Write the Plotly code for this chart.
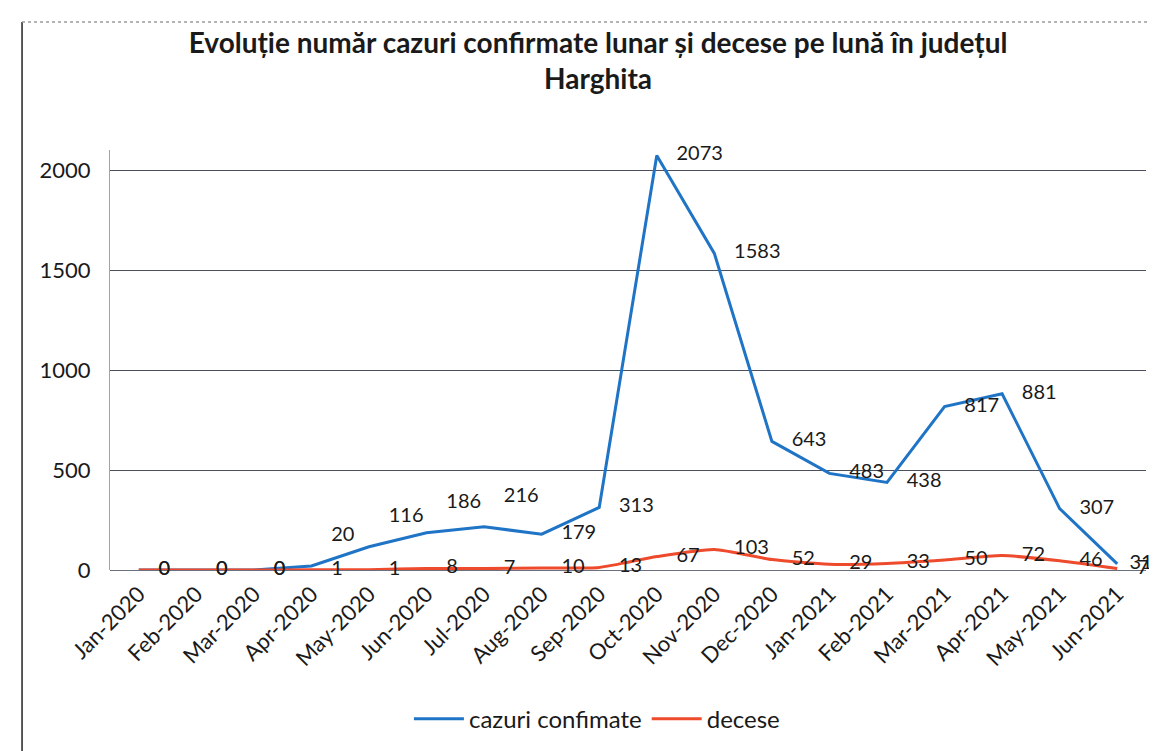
"""Monthly confirmed cases and deaths, Harghita county."""
import plotly.graph_objects as go

months = [
    "Jan-2020", "Feb-2020", "Mar-2020", "Apr-2020", "May-2020", "Jun-2020",
    "Jul-2020", "Aug-2020", "Sep-2020", "Oct-2020", "Nov-2020", "Dec-2020",
    "Jan-2021", "Feb-2021", "Mar-2021", "Apr-2021", "May-2021", "Jun-2021",
]
cases = [0, 0, 0, 20, 116, 186, 216, 179, 313, 2073, 1583, 643, 483, 438, 817, 881, 307, 31]
deaths = [0, 0, 0, 1, 1, 8, 7, 10, 13, 67, 103, 52, 29, 33, 50, 72, 46, 7]
y_ticks = [0, 500, 1000, 1500, 2000]

FONT = "Lato, 'Open Sans', sans-serif"
BLUE = "#1f74c6"
RED = "#ee4a2c"
CLEAR = "rgba(0,0,0,0)"

n = len(months)
# the small early values sit above their points, the rest to the right
case_pos = ["top right" if 3 <= i <= 6 else "middle right" for i in range(n)]
# invisible markers push the labels away from the line; last one closer to fit
case_msize = [30] * (n - 1) + [18]

fig = go.Figure()
fig.add_trace(go.Scatter(
    x=months, y=cases, name="cazuri confimate",
    mode="lines+markers+text",
    line=dict(color=BLUE, width=3),
    marker=dict(size=case_msize, color=CLEAR, line=dict(width=0, color=CLEAR)),
    text=[str(v) for v in cases], textposition=case_pos,
    textfont=dict(family=FONT, size=20, color="#1a1a1a"),
    cliponaxis=False,
))
fig.add_trace(go.Scatter(
    x=months, y=deaths, name="decese",
    mode="lines+markers+text",
    line=dict(color=RED, width=3, shape="spline", smoothing=0.6),
    marker=dict(size=30, color=CLEAR, line=dict(width=0, color=CLEAR)),
    text=[str(v) for v in deaths], textposition="middle right",
    textfont=dict(family=FONT, size=20, color="#1a1a1a"),
    cliponaxis=False,
))

fig.update_layout(
    width=1157, height=751,
    margin=dict(l=102, r=19, t=142, b=189),
    paper_bgcolor="white", plot_bgcolor="white",
    font=dict(family=FONT, size=20, color="#1a1a1a"),
    title=dict(
        text="<b>Evoluție număr cazuri confirmate lunar și decese pe lună în județul<br>Harghita</b>",
        x=0.51, xref="container", xanchor="center",
        y=0.94, yref="container", yanchor="top",
        font=dict(family=FONT, size=28, color="#1a1a1a"),
    ),
    legend=dict(
        orientation="h", x=0.47, xanchor="center", y=-0.355, yanchor="middle",
        font=dict(family=FONT, size=24, color="#1a1a1a"),
        itemwidth=50,
    ),
    showlegend=True,
    shapes=[
        dict(type="line", xref="paper", yref="paper", x0=-0.0849, x1=-0.0849,
             y0=-0.45, y1=1.305, line=dict(color="#222", width=1.5)),
        dict(type="line", xref="paper", yref="paper", x0=-0.0849, x1=1.02,
             y0=1.305, y1=1.305, line=dict(color="#9a9a9a", width=1.5, dash="dot")),
    ],
)
fig.update_xaxes(
    type="category", range=[-0.5, 17.5], tickangle=-45,
    showgrid=False, showline=False, ticks="", ticklabelstandoff=6,
    tickfont=dict(family=FONT, size=22, color="#1a1a1a"),
)
fig.update_yaxes(
    range=[0, 2100], tickvals=y_ticks,
    showgrid=True, gridcolor="#4a5060", gridwidth=1,
    zeroline=True, zerolinecolor="#6a7080", zerolinewidth=1,
    showline=True, linecolor="#9aa0cc", linewidth=1,
    ticks="", ticklabelstandoff=14,
    tickfont=dict(family=FONT, size=22, color="#1a1a1a"),
)

fig.write_html("out.html")
